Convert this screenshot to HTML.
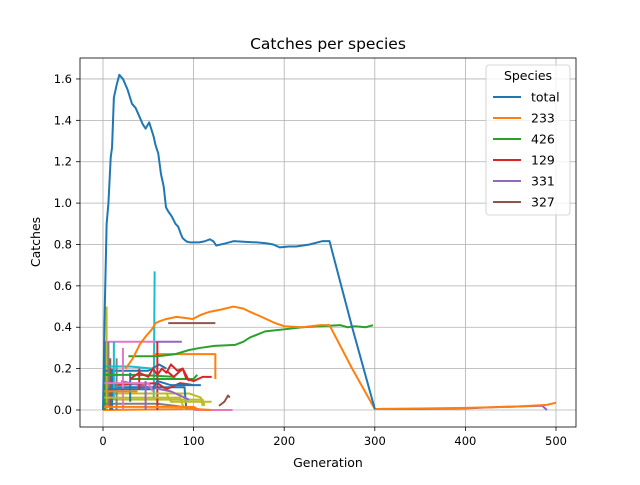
<!DOCTYPE html>
<html><head><meta charset="utf-8"><style>
body{margin:0;background:#fff;font-family:"Liberation Sans","DejaVu Sans",sans-serif}
svg text{font-family:"DejaVu Sans","Liberation Sans",sans-serif}
</style></head><body>
<svg id="chart" width="640" height="480" viewBox="0 0 640 480" xmlns="http://www.w3.org/2000/svg">
<rect width="640" height="480" fill="#fff"/>
<text x="328" y="49" font-size="15.5" text-anchor="middle">Catches per species</text>
<g id="grid"></g><g id="series"></g><g id="axes"></g>
<text x="328" y="467" font-size="12.5" text-anchor="middle">Generation</text>
<text transform="translate(40,242) rotate(-90)" font-size="12.5" text-anchor="middle">Catches</text>
<g id="legend"></g>
</svg>
<script>
const xTicks=[0,100,200,300,400,500];
const yTicks=[0,0.2,0.4,0.6,0.8,1.0,1.2,1.4,1.6];
const seriesNames=["total","233","426","129","331","327"];
const colors=["#1f77b4","#ff7f0e","#2ca02c","#d62728","#9467bd","#8c564b","#e377c2","#7f7f7f","#bcbd22","#17becf"];
const totalSeries=[[0,0],[2,0.5],[4,0.9],[6,1.0],[8.5,1.22],[10,1.27],[12,1.51],[15,1.57],[18,1.62],[22,1.6],[27,1.55],[32,1.48],[36,1.46],[40,1.42],[44,1.38],[47,1.36],[51,1.39],[56,1.32],[58,1.28],[61,1.24],[64,1.14],[67,1.08],[69.5,0.98],[72,0.96],[76,0.935],[80,0.9],[83,0.886],[86,0.85],[88,0.83],[92,0.815],[96,0.81],[106,0.81],[112,0.815],[118,0.825],[122,0.815],[125,0.795],[135,0.805],[144,0.816],[160,0.812],[170,0.81],[180,0.806],[188,0.8],[195,0.786],[205,0.79],[213,0.79],[228,0.8],[242,0.816],[250,0.816],[275,0.4],[300,0.005]];
const s233=[[25,0.2],[33,0.25],[41,0.32],[48,0.36],[54,0.39],[58,0.42],[63,0.43],[70,0.44],[81,0.45],[90,0.445],[99,0.44],[108,0.46],[118,0.475],[130,0.485],[144,0.5],[155,0.49],[162,0.475],[175,0.45],[190,0.42],[200,0.405],[220,0.4],[240,0.41],[250,0.41],[275,0.2],[300,0.005],[350,0.007],[400,0.01],[450,0.015],[490,0.025],[500,0.035]];
const s426=[[28,0.26],[60,0.26],[80,0.27],[95,0.29],[107,0.3],[123,0.31],[146,0.315],[155,0.33],[162,0.35],[179,0.38],[200,0.39],[220,0.4],[240,0.405],[262,0.41],[270,0.4],[278,0.405],[290,0.4],[298,0.41]];
const s129=[[30,0.15],[40,0.18],[50,0.16],[55,0.2],[60,0.17],[65,0.2],[70,0.18],[75,0.22],[82,0.19],[88,0.2],[92,0.15],[100,0.14],[110,0.16],[120,0.16]];
const s331=[[300,0.005],[350,0.005],[400,0.008],[440,0.015],[480,0.02],[485,0.02],[490,0.0]];
const s327=[[72,0.42],[124,0.42]];
const miscValues=[
 [[56,0.05],[57,0.67]],
 [[4,0],[4,0.5]],
 [[0,0.33],[58,0.33]],
 [[58,0.33],[87,0.33]],
 [[55,0.27],[124,0.27],[124,0.15]],
 [[30,0.15],[100,0.15],[104,0.17]],
 [[0,0.08],[95,0.08],[108,0.06],[110,0.02]],
 [[0,0.03],[60,0.03],[80,0.02],[110,0.0]],
 [[100,0],[143,0]],
 [[128,0.02],[134,0.04],[138,0.07],[140,0.06]],
 [[5,0.11],[90,0.11],[92,0.0]],
 [[0,0.19],[50,0.19],[62,0.22],[70,0.2]],
 [[10,0.12],[60,0.13],[70,0.1],[85,0.13],[100,0.12]],
 [[0,0.05],[80,0.05],[110,0.05],[112,0.02]],
 [[0,0.0],[100,0.005],[120,0.0]],
 [[15,0.25],[15,0.0]],
 [[60,0.33],[60,0.0]],
 [[8,0.25],[8,0.0]],
 [[20,0.14],[40,0.12],[75,0.09],[95,0.05]],
 [[0,0.21],[30,0.21],[55,0.2]],
 [[2,0.33],[2,0.0]],
 [[6,0.33],[6,0.02]],
 [[10,0.2],[10,0.0]],
 [[12,0.33],[12,0.05]],
 [[22,0.3],[22,0.0]],
 [[0,0.17],[40,0.17],[80,0.16]],
 [[0,0.06],[85,0.06],[90,0.0]],
 [[5,0.1],[55,0.1],[60,0.14],[75,0.12],[108,0.12]],
 [[40,0.2],[40,0.1]],
 [[70,0.19],[78,0.16],[88,0.2],[95,0.14]],
 [[0,0.015],[100,0.015],[106,0.0]],
 [[30,0.18],[30,0.04]],
 [[0,0.13],[50,0.13],[55,0.09]],
 [[47,0.14],[47,0.0]],
 [[50,0.08],[70,0.08],[75,0.04],[120,0.04]],
 [[0,0.09],[38,0.09]]
];
const miscColors=[9,8,6,4,1,2,8,7,6,5,0,0,3,8,1,7,3,5,4,9,2,7,0,9,6,2,8,0,3,3,1,0,6,4,8,1];
const X=v=>103+v*0.906, Y=v=>410-v*206.9;
const NS="http://www.w3.org/2000/svg";
function mk(tag,attrs,parent){const e=document.createElementNS(NS,tag);for(const k in attrs)e.setAttribute(k,attrs[k]);parent.appendChild(e);return e;}
const grid=document.getElementById('grid'),axes=document.getElementById('axes'),ser=document.getElementById('series');
xTicks.forEach(t=>{
 const g=mk('line',{x1:X(t),x2:X(t),y1:58,y2:427,stroke:'#b0b0b0','stroke-width':0.8},grid);
 
 
 mk('line',{x1:X(t),x2:X(t),y1:427,y2:431,stroke:'#000','stroke-width':0.8},axes);
 const tx=mk('text',{x:X(t),y:445,'font-size':11.5,'text-anchor':'middle'},axes);tx.textContent=t;
 
 
});
yTicks.forEach(t=>{
 const g=mk('line',{x1:80,x2:576,y1:Y(t),y2:Y(t),stroke:'#b0b0b0','stroke-width':0.8},grid);
 
 
 mk('line',{x1:76,x2:80,y1:Y(t),y2:Y(t),stroke:'#000','stroke-width':0.8},axes);
 const tx=mk('text',{x:72,y:Y(t)+4,'font-size':11.5,'text-anchor':'end'},axes);tx.textContent=t.toFixed(1);
 
 
});
const frame=mk('rect',{x:80,y:58,width:496,height:369,fill:'none',stroke:'#000','stroke-width':0.8},axes);


function line(pts,col,name){
 const p=mk('polyline',{points:pts.map(d=>X(d[0])+','+Y(d[1])).join(' '),fill:'none',stroke:col,'stroke-width':2,'stroke-linejoin':'round'},ser);
 
 
}
miscValues.forEach((s,i)=>line(s,colors[miscColors[i]],'species-line-other'));
[s327,s331,s129,s426,s233,totalSeries].forEach((s,j)=>{const i=5-j;line(s,colors[i],'line-'+seriesNames[i]);});
const lg=document.getElementById('legend');
mk('rect',{x:486,y:65,width:84,height:150,rx:3,fill:'#fff','fill-opacity':0.8,stroke:'#ccc','stroke-width':0.8},lg);
const lt=mk('text',{x:528,y:80,'font-size':12.5,'text-anchor':'middle'},lg);lt.textContent='Species';


seriesNames.forEach((n,i)=>{
 const y=97+i*21;
 const l=mk('line',{x1:493,x2:521,y1:y,y2:y,stroke:colors[i],'stroke-width':2},lg);
 
 
 const t=mk('text',{x:531,y:y+4.5,'font-size':12.5},lg);t.textContent=n;
 
 
});
</script>
</body></html>
